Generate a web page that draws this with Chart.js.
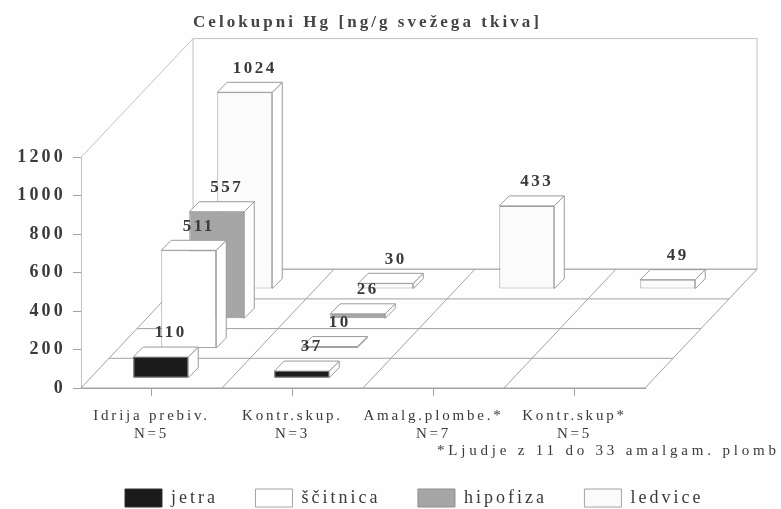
<!DOCTYPE html>
<html>
<head>
<meta charset="utf-8">
<title>Celokupni Hg</title>
<style>
html, body { margin: 0; padding: 0; background: #fefefe; }
canvas { display: block; filter: blur(0.5px); }
</style>
<script src="https://cdn.jsdelivr.net/npm/chart.js@4/dist/chart.umd.js"></script>
</head>
<body>
<canvas id="hgChart" width="781" height="509"></canvas>
<script>
var categories = [['Idrija prebiv.', 'N=5'], ['Kontr.skup.', 'N=3'], ['Amalg.plombe.*', 'N=7'], ['Kontr.skup*', 'N=5']];
var jetra = [110, 37, null, null];
var scitnica = [511, 10, null, null];
var hipofiza = [557, 26, null, null];
var ledvice = [1024, 30, 433, 49];
var yTicks = [0, 200, 400, 600, 800, 1000, 1200];
var titleText = 'Celokupni Hg [ng/g svežega tkiva]';
var noteText = '*Ljudje z 11 do 33 amalgam. plomb';

var serif = 'Liberation Serif';
var inkColor = '#3a3a3a';
var wallColor = '#c2c2c2';
var floorColor = '#a2a2a2';
var rowX = 28, rowY = 29.7, rows = 4;   // depth of one row on the floor
var frontGap = 0.33;                    // bar front inside its row
var barDepth = 10;

function rowOffset(i) {
    return { x: rowX * (i + frontGap), y: -rowY * (i + frontGap) };
}

function line(ctx, x1, y1, x2, y2) {
    ctx.beginPath();
    ctx.moveTo(x1, y1);
    ctx.lineTo(x2, y2);
    ctx.stroke();
}

function face(ctx, pts) {
    ctx.beginPath();
    ctx.moveTo(pts[0], pts[1]);
    for (var i = 2; i < pts.length; i += 2) ctx.lineTo(pts[i], pts[i + 1]);
    ctx.closePath();
    ctx.fill();
    ctx.stroke();
}

function spaced(ctx, obj, method, px) {
    var orig = obj[method];
    obj[method] = function (a) {
        ctx.letterSpacing = px;
        orig.call(obj, a);
        ctx.letterSpacing = '0px';
    };
}

var box3d = {
    id: 'box3d',
    afterLayout: function (chart) {
        // title and legend sit where the picture has them
        chart.titleBlock.left = 193;
        chart.titleBlock.right = 600;
        chart.legend.left = 87.5;
        chart.legend.right = 781;
        chart.legend.top = 451.5;
        if (!chart.$spaced) {
            chart.$spaced = true;
            spaced(chart.ctx, chart.titleBlock, 'draw', '3.05px');
            spaced(chart.ctx, chart.legend, 'draw', '3px');
            spaced(chart.ctx, chart.scales.x, 'drawLabels', '2.8px');
            spaced(chart.ctx, chart.scales.y, 'drawLabels', '3.2px');
        }
    },
    beforeDatasetsDraw: function (chart) {
        var ctx = chart.ctx, x = chart.scales.x, y = chart.scales.y;
        var bottom = y.getPixelForValue(0), top = y.getPixelForValue(1200);
        var left = x.left, right = x.right;
        var dx = rowX * rows, dy = rowY * rows;
        var step = (right - left) / categories.length;
        var i;
        ctx.save();
        ctx.lineWidth = 1;
        ctx.strokeStyle = wallColor;
        // back wall
        ctx.strokeRect(left + dx, top - dy, right - left, bottom - top);
        // left wall
        line(ctx, left, top, left + dx, top - dy);
        // floor
        ctx.strokeStyle = floorColor;
        for (i = 0; i <= rows; i++) {
            line(ctx, left + rowX * i, bottom - rowY * i, right + rowX * i, bottom - rowY * i);
        }
        for (i = 0; i <= categories.length; i++) {
            line(ctx, left + step * i, bottom, left + step * i + dx, bottom - dy);
        }
        ctx.restore();
    },
    beforeDatasetDraw: function (chart, args) {
        var off = rowOffset(args.index);
        chart.ctx.save();
        chart.ctx.translate(off.x, off.y);
    },
    afterDatasetDraw: function (chart, args) {
        var ctx = chart.ctx;
        ctx.strokeStyle = '#9a9a9a';
        ctx.lineWidth = 1;
        ctx.fillStyle = '#ffffff';
        args.meta.data.forEach(function (bar, k) {
            if (chart.data.datasets[args.index].data[k] === null) return;
            var r = bar.x + bar.width / 2, l = bar.x - bar.width / 2;
            face(ctx, [r, bar.y, r + barDepth, bar.y - barDepth, r + barDepth, bar.base - barDepth, r, bar.base]);
            face(ctx, [l, bar.y, l + barDepth, bar.y - barDepth, r + barDepth, bar.y - barDepth, r, bar.y]);
        });
        ctx.restore();
    },
    afterDatasetsDraw: function (chart) {
        var ctx = chart.ctx;
        ctx.save();
        ctx.fillStyle = inkColor;
        ctx.font = 'bold 17px "' + serif + '"';
        ctx.letterSpacing = '2.5px';
        ctx.textAlign = 'center';
        ctx.textBaseline = 'middle';
        chart.data.datasets.forEach(function (ds, i) {
            var off = rowOffset(i);
            chart.getDatasetMeta(i).data.forEach(function (bar, k) {
                if (ds.data[k] === null) return;
                ctx.fillText(String(ds.data[k]), bar.x + off.x + barDepth / 2 + 5, bar.y + off.y - barDepth - 14);
            });
        });
        ctx.font = '15px "' + serif + '"';
        ctx.letterSpacing = '3.8px';
        ctx.textAlign = 'left';
        ctx.fillText(noteText, 437, 451);
        ctx.restore();
    }
};

var barChart = new Chart(document.getElementById('hgChart').getContext('2d'), {
    type: 'bar',
    data: {
        labels: categories,
        datasets: [
            { label: 'jetra', data: jetra, backgroundColor: '#1b1b1b', borderColor: '#333333', borderWidth: 1, borderSkipped: false, clip: false },
            { label: 'ščitnica', data: scitnica, backgroundColor: '#ffffff', borderColor: '#a4a4a4', borderWidth: 1, borderSkipped: false, clip: false },
            { label: 'hipofiza', data: hipofiza, backgroundColor: '#a6a6a6', borderColor: '#8e8e8e', borderWidth: 1, borderSkipped: false, clip: false },
            { label: 'ledvice', data: ledvice, backgroundColor: '#fbfbfb', borderColor: '#a4a4a4', borderWidth: 1, borderSkipped: false, clip: false }
        ]
    },
    options: {
        responsive: false,
        animation: false,
        grouped: false,
        barPercentage: 0.39,
        categoryPercentage: 1,
        layout: { padding: { right: 136 } },
        scales: {
            x: {
                afterFit: function (s) { s.height = 121 - s.chart.legend.height; },
                grid: { offset: false, drawOnChartArea: false, tickLength: 8, color: floorColor },
                border: { color: floorColor },
                ticks: { color: inkColor, padding: 11, maxRotation: 0, font: { family: serif, size: 15 } }
            },
            y: {
                min: 0,
                max: 1200,
                afterFit: function (s) { s.width = 81; },
                afterBuildTicks: function (s) { s.ticks = yTicks.map(function (v) { return { value: v }; }); },
                grid: { drawOnChartArea: false, tickLength: 8, color: floorColor },
                border: { color: wallColor },
                ticks: {
                    color: inkColor,
                    padding: 7,
                    font: { family: serif, size: 18, weight: 'bold' },
                    callback: function (v) { return String(v); }
                }
            }
        },
        plugins: {
            tooltip: { enabled: false },
            title: {
                display: true,
                text: titleText,
                align: 'start',
                color: '#444444',
                font: { family: serif, size: 17, weight: 'bold', lineHeight: 1.2 },
                padding: { top: 12, bottom: 125 }
            },
            legend: {
                position: 'bottom',
                align: 'start',
                labels: {
                    boxWidth: 37,
                    boxHeight: 18,
                    padding: 37.5,
                    color: inkColor,
                    font: { family: serif, size: 18 }
                }
            }
        }
    },
    plugins: [box3d]
});
</script>
</body>
</html>
